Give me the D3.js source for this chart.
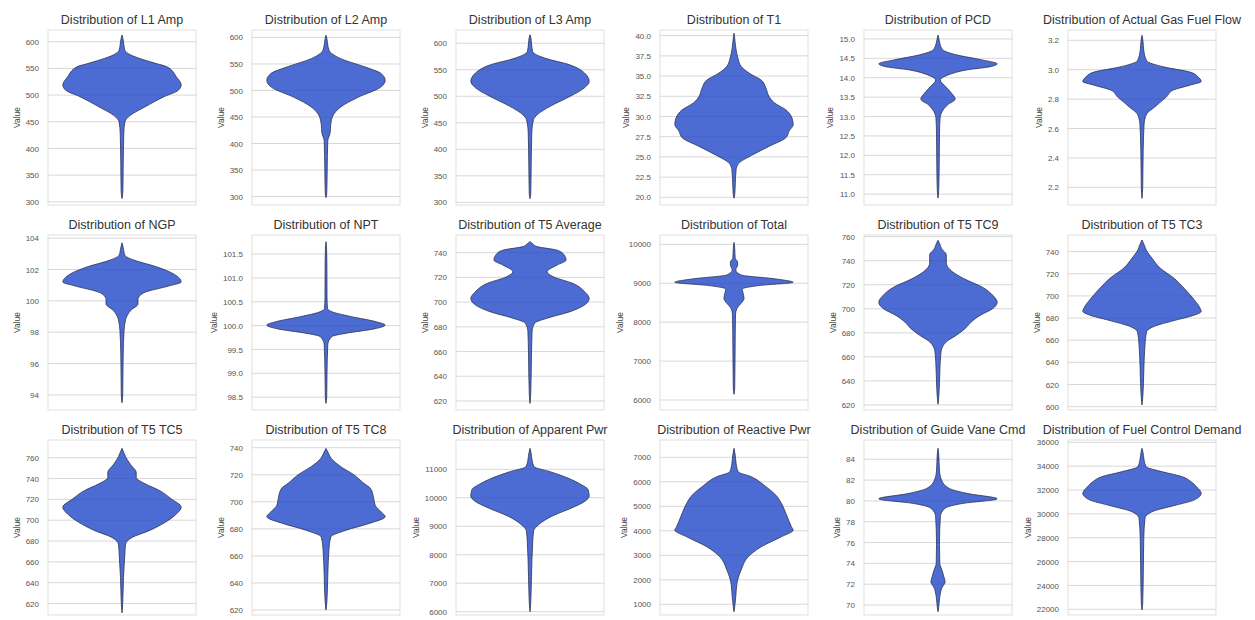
<!DOCTYPE html>
<html>
<head>
<meta charset="utf-8">
<script src="https://cdn.jsdelivr.net/npm/d3@7"></script>
<style>
  body { margin: 0; background: #fff; }
  svg { font-family: "Liberation Sans", Arial, sans-serif; }
</style>
</head>
<body>
<div id="chart"></div>
<script>
// Panel names, in plot order (6 per row)
const names = ['L1 Amp', 'L2 Amp', 'L3 Amp', 'T1', 'PCD', 'Actual Gas Fuel Flow',
  'NGP', 'NPT', 'T5 Average', 'Total', 'T5 TC9', 'T5 TC3',
  'T5 TC5', 'T5 TC8', 'Apparent Pwr', 'Reactive Pwr', 'Guide Vane Cmd', 'Fuel Control Demand'];

// violin outlines: [value, relative half-width]
const l1Amp = [[612.5,0],[606,0.015],[600,0.025],[585,0.045],[575,0.15],[569,0.29],[560,0.55],[553,0.76],[534,0.92],[519,1],[509,0.95],[497,0.71],[478,0.39],[462,0.14],[450,0.05],[428,0.03],[366,0.02],[320,0.015],[306,0]];
const l2Amp = [[604,0],[598,0.015],[590,0.025],[576,0.05],[560,0.25],[545,0.64],[532,0.93],[519,1],[506,0.92],[487,0.54],[469,0.25],[453,0.12],[436,0.08],[420,0.07],[405,0.03],[350,0.02],[305,0.012],[298,0]];
const l3Amp = [[616,0],[610,0.015],[600,0.025],[584,0.045],[572,0.25],[559,0.68],[544,0.92],[528,1],[516,0.92],[500,0.68],[481,0.34],[465,0.12],[456,0.06],[431,0.03],[368,0.02],[315,0.012],[307,0]];
const t1 = [[40.3,0],[39.8,0.01],[39.1,0.02],[37.4,0.06],[36.2,0.12],[35.3,0.27],[34.5,0.46],[33.5,0.54],[32.5,0.59],[31.7,0.68],[30.8,0.88],[29.8,0.98],[29.0,1],[28.2,0.93],[27.4,0.88],[26.3,0.59],[25.2,0.3],[24.2,0.08],[23.4,0.035],[21.4,0.02],[20.3,0.012],[19.9,0]];
const pcd = [[15.1,0],[15.0,0.015],[14.89,0.03],[14.72,0.08],[14.59,0.31],[14.46,0.74],[14.36,1],[14.29,0.9],[14.2,0.48],[14.07,0.17],[13.94,0.04],[13.77,0.13],[13.6,0.23],[13.45,0.29],[13.3,0.16],[13.13,0.07],[12.96,0.035],[12.57,0.025],[11.7,0.02],[11.1,0.012],[10.9,0]];
const gasFlow = [[3.234,0],[3.2,0.015],[3.13,0.03],[3.06,0.08],[3.018,0.38],[2.984,0.81],[2.95,0.95],[2.92,1],[2.895,0.81],[2.86,0.52],[2.814,0.41],[2.78,0.31],[2.745,0.21],[2.7,0.08],[2.63,0.035],[2.45,0.02],[2.2,0.012],[2.125,0]];
const ngp = [[103.7,0],[103.4,0.02],[102.9,0.05],[102.6,0.2],[102.2,0.56],[101.7,0.88],[101.2,1],[100.96,0.8],[100.5,0.36],[100.1,0.27],[99.8,0.27],[99.4,0.15],[98.8,0.06],[98.1,0.035],[96.6,0.02],[94,0.012],[93.5,0]];
const npt = [[101.76,0],[101.6,0.01],[101.3,0.015],[100.6,0.017],[100.36,0.025],[100.29,0.1],[100.19,0.42],[100.08,0.85],[100.01,1],[99.93,0.81],[99.84,0.34],[99.77,0.1],[99.6,0.03],[99.0,0.017],[98.5,0.012],[98.37,0]];
const t5Avg = [[749,0],[747,0.05],[744.9,0.12],[742,0.46],[738,0.58],[734,0.61],[730,0.46],[724.6,0.29],[720.6,0.39],[715,0.73],[708,0.93],[703,1],[697,0.9],[692,0.66],[687,0.29],[683,0.08],[676,0.035],[657,0.025],[625,0.012],[618,0]];
const total = [[10050,0],[9900,0.012],[9640,0.02],[9553,0.06],[9470,0.06],[9340,0.03],[9213,0.12],[9110,0.71],[9025,1],[8940,0.42],[8850,0.14],[8767,0.15],[8610,0.17],[8484,0.12],[8355,0.05],[8190,0.025],[7160,0.018],[6300,0.012],[6146,0]];
const tc9 = [[757,0],[754,0.03],[750,0.06],[745,0.14],[738,0.14],[731,0.24],[725,0.44],[718,0.75],[711,0.93],[705.5,1],[700,0.92],[694.5,0.71],[689,0.56],[683.6,0.46],[678,0.31],[672.5,0.14],[664,0.05],[647,0.03],[628,0.015],[620.6,0]];
const tc3 = [[750.5,0],[747,0.03],[741.5,0.07],[734,0.17],[725,0.31],[716,0.54],[707,0.71],[698,0.86],[690,0.97],[686,1],[683,0.9],[678,0.56],[672.4,0.2],[668,0.08],[655.7,0.05],[631.6,0.03],[610,0.015],[601.5,0]];
const tc5 = [[769,0],[765,0.03],[761,0.06],[753,0.15],[746,0.24],[741,0.24],[735,0.39],[728.6,0.63],[720.6,0.83],[712.5,1],[706,0.92],[698,0.73],[690,0.46],[683.5,0.17],[677,0.06],[664.5,0.045],[645,0.025],[620,0.012],[611,0]];
const tc8 = [[739.5,0],[736,0.04],[732,0.09],[726,0.25],[720,0.47],[713.7,0.64],[710,0.75],[704,0.8],[697.5,0.83],[692.6,0.93],[689,1],[684,0.73],[679,0.34],[674,0.08],[664.7,0.05],[645,0.03],[626,0.015],[620,0]];
const apparentPwr = [[11737,0],[11550,0.02],[11327,0.035],[11092,0.07],[10916,0.34],[10702,0.63],[10467,0.86],[10292,0.98],[10057,1],[9881,0.93],[9649,0.71],[9354,0.37],[9064,0.15],[8830,0.06],[8420,0.045],[7240,0.025],[6300,0.012],[6000,0]];
const reactivePwr = [[7367,0],[7100,0.02],[6755,0.035],[6412,0.07],[6208,0.29],[5800,0.54],[5392,0.73],[5120,0.8],[4573,0.9],[4165,0.97],[4030,1],[3757,0.8],[3349,0.46],[2941,0.24],[2398,0.12],[1855,0.05],[1310,0.03],[900,0.012],[698,0]];
const guideVane = [[85.05,0],[84.5,0.012],[82.9,0.025],[82,0.06],[81.2,0.19],[80.7,0.51],[80.2,1],[79.75,0.41],[79.3,0.12],[78.5,0.04],[75.8,0.025],[74,0.03],[73.3,0.07],[72.7,0.1],[72.2,0.12],[71.7,0.07],[70.8,0.03],[69.8,0.012],[69.36,0]];
const fuelDemand = [[35497,0],[35200,0.015],[34514,0.035],[33955,0.07],[33536,0.34],[33117,0.68],[32698,0.83],[32278,0.92],[31720,1],[31160,0.88],[30742,0.58],[30182,0.17],[29622,0.05],[27945,0.03],[25150,0.022],[22500,0.012],[21950,0]];

const profiles = [l1Amp, l2Amp, l3Amp, t1, pcd, gasFlow, ngp, npt, t5Avg, total, tc9, tc3,
  tc5, tc8, apparentPwr, reactivePwr, guideVane, fuelDemand];

// y axis limits per panel
const yLimits = [[294,622],[284,614],[295,625],[19.05,40.7],[10.72,15.23],[2.08,3.27],
  [93.04,104.2],[98.23,101.9],[612.7,754.3],[5743,10240],[615.8,761.4],[597,755],
  [609,777],[616.3,745.7],[5884,12029],[563,7707],[69.04,85.85],[21522,36193]];

// y tick values per panel
const yTicks = [
  [300,350,400,450,500,550,600],
  [300,350,400,450,500,550,600],
  [300,350,400,450,500,550,600],
  [20,22.5,25,27.5,30,32.5,35,37.5,40],
  [11,11.5,12,12.5,13,13.5,14,14.5,15],
  [2.2,2.4,2.6,2.8,3.0,3.2],
  [94,96,98,100,102,104],
  [98.5,99,99.5,100,100.5,101,101.5],
  [620,640,660,680,700,720,740],
  [6000,7000,8000,9000,10000],
  [620,640,660,680,700,720,740,760],
  [600,620,640,660,680,700,720,740],
  [620,640,660,680,700,720,740,760],
  [620,640,660,680,700,720,740],
  [6000,7000,8000,9000,10000,11000],
  [1000,2000,3000,4000,5000,6000,7000],
  [70,72,74,76,78,80,82,84],
  [22000,24000,26000,28000,30000,32000,34000,36000]
];

// layout
const cols = 6;
const left0 = 48, top0 = 30;
const colStep = 204, rowStep = 205;
const plotW = 148, plotH = 175;

const svg = d3.select('#chart')
  .append('svg')
  .attr('width', 1255)
  .attr('height', 620);

names.forEach((name, i) => {
  const c = i % cols, r = Math.floor(i / cols);
  const g = svg.append('g')
    .attr('transform', `translate(${left0 + c * colStep},${top0 + r * rowStep})`);

  const x = d3.scaleLinear().domain([-0.5, 0.5]).range([0, plotW]);
  const y = d3.scaleLinear().domain(yLimits[i]).range([plotH, 0]);
  const ticks = yTicks[i];
  const decimals = ticks.some(t => t % 1 !== 0) ? 1 : 0;

  // horizontal grid
  g.append('g').selectAll('line')
    .data(ticks)
    .join('line')
    .attr('x1', 0).attr('x2', plotW)
    .attr('y1', d => y(d)).attr('y2', d => y(d))
    .attr('stroke', '#d4d4d4')
    .attr('stroke-width', 0.9);

  // frame
  g.append('rect')
    .attr('width', plotW).attr('height', plotH)
    .attr('fill', 'none')
    .attr('stroke', '#dcdcdc')
    .attr('stroke-width', 0.9);

  // violin
  const area = d3.area()
    .y(d => y(d[0]))
    .x0(d => x(-0.4 * d[1]))
    .x1(d => x(0.4 * d[1]))
    .curve(d3.curveMonotoneY);

  g.append('path')
    .datum(profiles[i])
    .attr('d', area)
    .attr('fill', '#1f47c9')
    .attr('fill-opacity', 0.8)
    .attr('stroke', '#2b3252')
    .attr('stroke-width', 0.8);

  // y axis labels
  const ax = g.append('g')
    .call(d3.axisLeft(y)
      .tickValues(ticks)
      .tickFormat(d3.format(`.${decimals}f`))
      .tickSize(0)
      .tickPadding(9));
  ax.select('.domain').remove();
  ax.selectAll('text')
    .attr('fill', '#555')
    .style('font-size', '8px')
    .style('font-family', '"Liberation Sans", Arial, sans-serif');

  const box = ax.node().getBBox();
  g.append('text')
    .attr('transform', `translate(${box.x - 6},${plotH / 2}) rotate(-90)`)
    .attr('text-anchor', 'middle')
    .attr('fill', '#444')
    .style('font-size', '8.5px')
    .text('Value');

  // title
  g.append('text')
    .attr('x', plotW / 2)
    .attr('y', -6)
    .attr('text-anchor', 'middle')
    .attr('fill', '#333')
    .style('font-size', '12.5px')
    .text('Distribution of ' + name);
});
</script>
</body>
</html>
